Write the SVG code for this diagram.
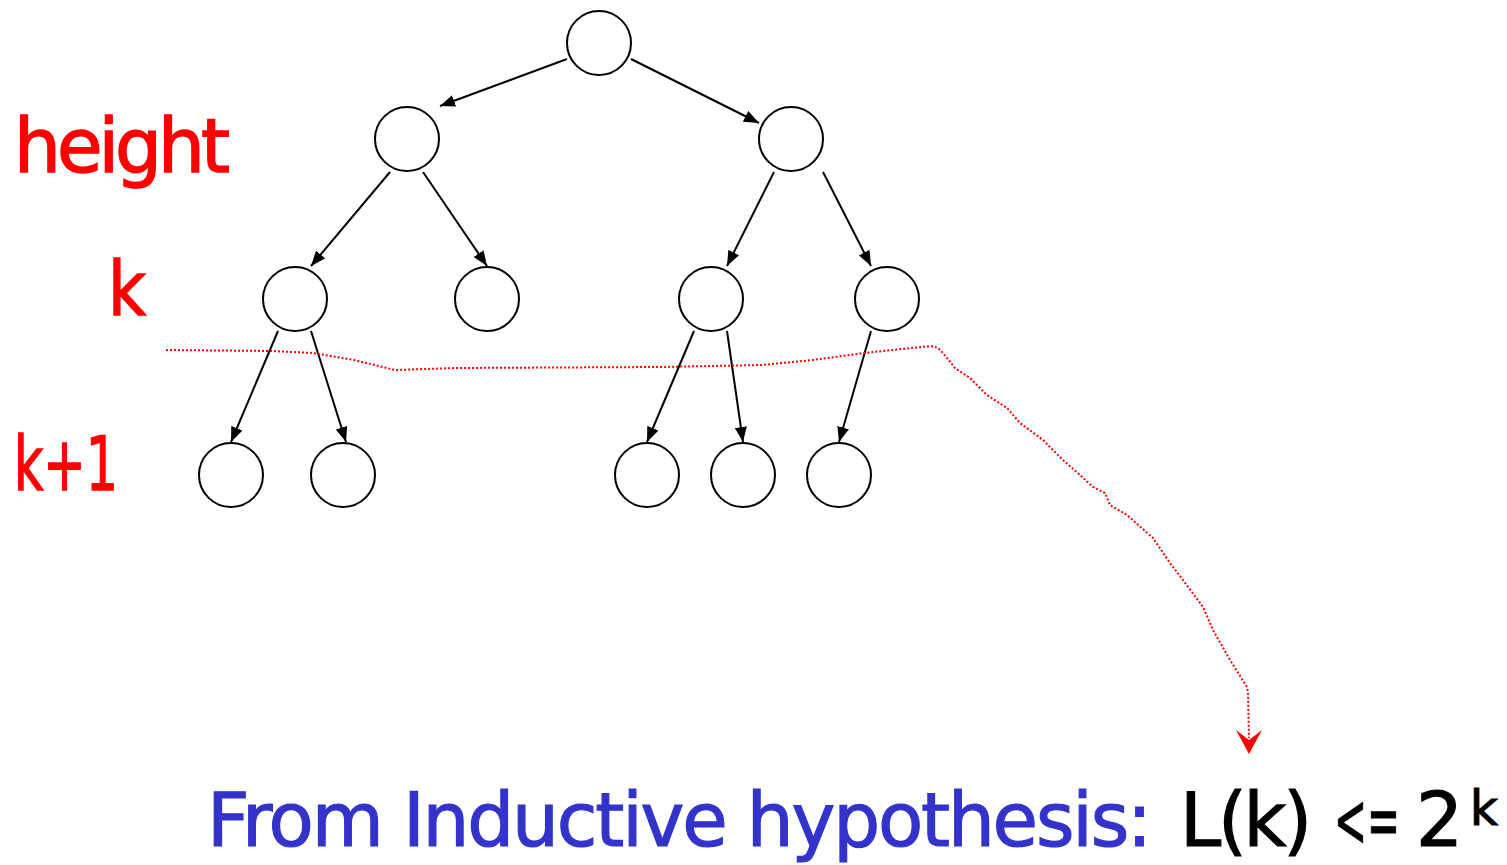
<svg xmlns="http://www.w3.org/2000/svg" width="1507" height="865" viewBox="0 0 1507 865">
<defs>
<style>
.node{fill:#fff;stroke:#000;stroke-width:2}
.edge{stroke:#000;stroke-width:2;fill:none;marker-end:url(#ah)}
.lbl{font-family:"DejaVu Sans","Noto Sans",sans-serif;fill:#ff0000;stroke:#ff0000;stroke-width:1.5;font-size:74px}
.bot{font-family:"DejaVu Sans","Noto Sans",sans-serif;font-size:74px;stroke-width:1.2}
.sup{font-size:48px}
.blue{fill:#3333cc;stroke:#3333cc}
.blk{fill:#000;stroke:#000}
.dot{stroke:#ff0000;stroke-width:2;fill:none;stroke-dasharray:2 2}
</style>
<marker id="ah" viewBox="0 0 15 12" refX="15" refY="6" markerWidth="15" markerHeight="12" markerUnits="userSpaceOnUse" orient="auto">
<path d="M0,0 L15,6 L0,12 Z" fill="#000"/>
</marker>
</defs>
<rect width="1507" height="865" fill="#fff"/>
<g id="connectors">
<line class="edge" x1="567" y1="59" x2="440" y2="106"/>
<line class="edge" x1="631" y1="59" x2="759" y2="123"/>
<line class="edge" x1="390" y1="172" x2="311" y2="266"/>
<line class="edge" x1="423" y1="172" x2="487" y2="266"/>
<line class="edge" x1="774" y1="172" x2="727" y2="266"/>
<line class="edge" x1="823" y1="172" x2="871" y2="266"/>
<line class="edge" x1="278" y1="331" x2="231" y2="442"/>
<line class="edge" x1="311" y1="331" x2="346" y2="442"/>
<line class="edge" x1="694" y1="331" x2="647" y2="442"/>
<line class="edge" x1="727" y1="331" x2="743" y2="442"/>
<line class="edge" x1="871" y1="331" x2="839" y2="442"/>
</g>
<g id="nodes">
<circle id="n0" class="node" cx="599" cy="43" r="32"/>
<circle id="n1" class="node" cx="407" cy="139" r="32"/>
<circle id="n2" class="node" cx="791" cy="139" r="32"/>
<circle id="n3" class="node" cx="295" cy="299" r="32"/>
<circle id="n4" class="node" cx="487" cy="299" r="32"/>
<circle id="n5" class="node" cx="711" cy="299" r="32"/>
<circle id="n6" class="node" cx="887" cy="299" r="32"/>
<circle id="n7" class="node" cx="231" cy="475" r="32"/>
<circle id="n8" class="node" cx="343" cy="475" r="32"/>
<circle id="n9" class="node" cx="647" cy="475" r="32"/>
<circle id="n10" class="node" cx="743" cy="475" r="32"/>
<circle id="n11" class="node" cx="839" cy="475" r="32"/>
</g>
<g id="cut-line">
<path class="dot" d="M166,350 L272,351 L313,353 L354,360 L395,370 L456,368 L660,367 L762,365 L813,360 L864,353 L931,346 L938,348 L943,353 L955,368 L970,378 L987,395 L1007,408 L1020,423 L1043,440 L1063,460 L1080,475 L1093,487 L1105,493 L1110,505 L1127,515 L1153,538 L1170,563 L1183,580 L1203,607 L1213,630 L1230,660 L1247,687 L1248,693 L1249,738"/>
<path d="M1236,730 L1249,754 L1262,730 L1249,740 Z" fill="#ff0000"/>
</g>
<g id="labels">
<text class="lbl" x="14" y="172" textLength="216">height</text>
<text class="lbl" x="108" y="315" textLength="38" lengthAdjust="spacingAndGlyphs">k</text>
<text class="lbl" x="14" y="490" textLength="104" lengthAdjust="spacingAndGlyphs">k+1</text>
</g>
<g id="formula">
<text class="bot blue" x="207" y="846" textLength="945">From Inductive hypothesis:</text>
<text class="bot blk" x="1180" y="846" textLength="132">L(k)</text>
<text class="bot blk" x="1334" y="846" textLength="66" lengthAdjust="spacingAndGlyphs">&lt;=</text>
<text class="bot blk" x="1416" y="846">2<tspan class="sup" x="1470" y="825">k</tspan></text>
</g>
</svg>
